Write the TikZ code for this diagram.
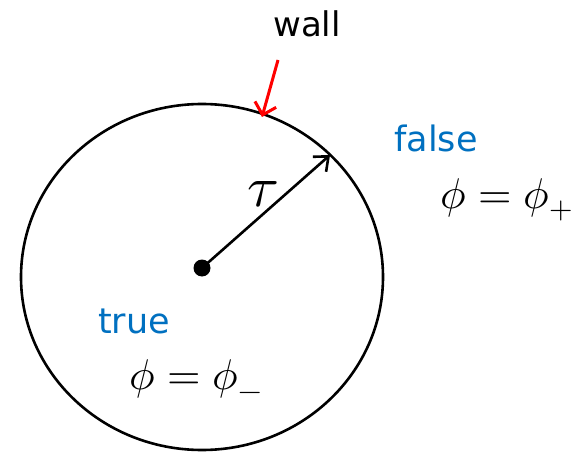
\documentclass[tikz,border=0pt]{standalone}
\usepackage{fontspec}
\setmainfont{DejaVu Sans}
\usepackage{unicode-math}
\setmathfont{Latin Modern Math}
\usetikzlibrary{arrows.meta}
\definecolor{pblue}{RGB}{0,112,192}
\tikzset{
  lbl/.style={font=\fontsize{35}{40}\selectfont, text=pblue, inner sep=0pt},
  eq/.style={font=\fontsize{43}{50}\selectfont, inner sep=0pt},
  line/.style={line width=2.6pt}
}
\begin{document}
\begin{tikzpicture}[x=1pt,y=-1pt]
\useasboundingbox (0,0) rectangle (574,452);
\draw[line] (202,277) ellipse [x radius=181, y radius=173];
\node[circle, fill=black, minimum size=17pt, inner sep=0pt] (c) at (202,268) {};
\coordinate (t) at (330,155);
\draw[line, -{Straight Barb[length=12pt, width=20pt, line width=2.6pt]}] (c.center) -- (t);
\node[eq, font=\fontsize{58}{60}\selectfont] (tau) at (263,194) {$\tau$};
\coordinate (ws) at (278,60);
\coordinate (wt) at (262,117);
\draw[line width=3pt, red, -{Straight Barb[length=11pt, width=22pt, line width=3pt]}] (ws) -- (wt);
\node[font=\fontsize{34}{40}\selectfont, inner sep=0pt, anchor=base] (wall) at (307,37) {wall};
\node[lbl, anchor=base] (false) at (436,152) {false};
\node[lbl, anchor=base] (true) at (134,333) {true};
\node[eq] (eqp) at (507,200) {$\phi = \phi_+$};
\node[eq] (eqm) at (196,380) {$\phi = \phi_-$};
\end{tikzpicture}
\end{document}
